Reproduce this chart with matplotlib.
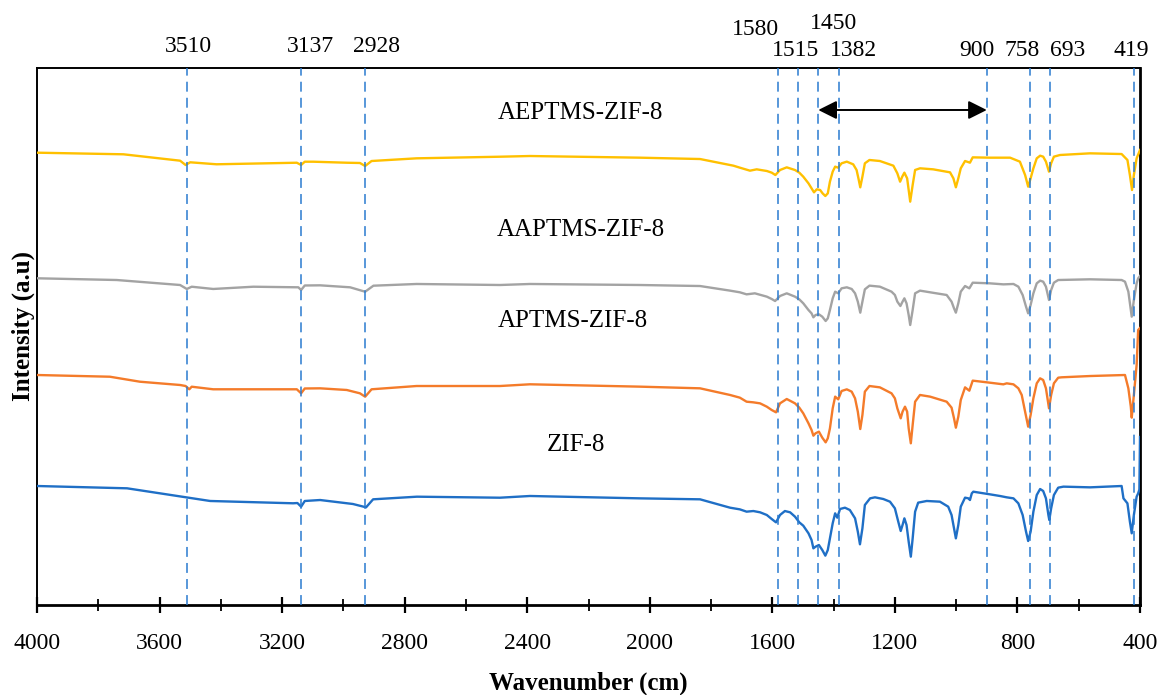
import matplotlib
matplotlib.use("Agg")
import matplotlib.pyplot as plt
from matplotlib.ticker import MultipleLocator

plt.rcParams["font.family"] = ["Liberation Serif", "DejaVu Serif"]

# ---- FTIR spectra (wavenumber in cm-1, offset intensity in a.u.) ----
zif8_wn = [4000, 3706, 3435, 3164, 3150, 3138, 3126, 3076, 2969, 2926, 2903, 2760,
           2489, 2391, 2032, 1836, 1738, 1706, 1684, 1662, 1640, 1618, 1602, 1588,
           1575, 1559, 1542, 1526, 1512, 1499, 1482, 1472, 1466, 1459, 1448, 1437,
           1427, 1419, 1412, 1403, 1395, 1388, 1379, 1363, 1347, 1330, 1321, 1314,
           1306, 1298, 1281, 1265, 1238, 1216, 1200, 1189, 1181, 1175, 1169, 1162,
           1155, 1148, 1142, 1134, 1124, 1096, 1053, 1026, 1015, 1007, 1001, 993,
           985, 971, 960, 955, 949, 944, 890, 857, 835, 813, 797, 783, 772, 765,
           757, 748, 737, 726, 716, 707, 699, 696, 690, 681, 667, 650, 563, 460,
           454, 441, 433, 427, 420, 411, 406, 402, 400]
zif8_int = [22.16, 21.73, 19.37, 18.94, 18.99, 18.31, 19.37, 19.55, 18.81, 18.19,
            19.68, 20.17, 19.98, 20.30, 19.86, 19.68, 18.12, 17.81, 17.38, 17.50,
            17.26, 16.76, 16.01, 15.39, 16.76, 17.50, 17.26, 16.45, 15.39, 14.77,
            13.35, 12.10, 10.55, 10.86, 11.17, 10.24, 9.19, 10.24, 12.41, 15.21,
            17.07, 16.26, 17.88, 18.12, 17.69, 16.14, 13.66, 11.30, 14.28, 18.62,
            19.86, 20.05, 19.74, 19.24, 18.00, 15.52, 13.78, 14.90, 16.14, 14.90,
            11.79, 9.00, 12.41, 17.38, 19.06, 19.37, 19.24, 18.31, 16.76, 14.28,
            12.41, 14.90, 18.31, 19.99, 19.86, 19.55, 20.79, 21.10, 20.61, 20.30,
            20.05, 19.86, 18.93, 16.76, 13.66, 11.92, 13.66, 17.38, 20.48, 21.60,
            21.23, 19.86, 16.76, 15.83, 18.00, 20.48, 21.85, 22.04, 21.91, 22.16,
            19.86, 18.93, 15.52, 13.35, 16.76, 20.17, 20.79, 21.50, 31.28]

aptms_wn = [4000, 3762, 3664, 3533, 3515, 3503, 3495, 3425, 3152, 3138, 3126, 3076,
            2989, 2946, 2929, 2908, 2761, 2489, 2391, 2032, 1836, 1738, 1706, 1684,
            1662, 1640, 1618, 1602, 1588, 1575, 1553, 1526, 1512, 1499, 1482, 1472,
            1466, 1459, 1448, 1437, 1426, 1419, 1412, 1403, 1395, 1385, 1374, 1357,
            1341, 1330, 1321, 1313, 1306, 1298, 1283, 1249, 1211, 1200, 1192, 1181,
            1175, 1167, 1160, 1155, 1148, 1142, 1134, 1118, 1085, 1031, 1015, 1007,
            1001, 993, 985, 971, 957, 946, 890, 846, 835, 813, 797, 786, 775, 765,
            757, 748, 737, 726, 716, 707, 697, 690, 681, 667, 656, 563, 449, 438,
            430, 427, 420, 411, 406, 400]
aptms_int = [42.83, 42.51, 41.58, 40.97, 40.78, 40.17, 40.65, 40.17, 40.17, 39.42,
             40.32, 40.35, 40.04, 39.42, 38.79, 40.17, 40.78, 40.78, 41.10, 40.66,
             40.35, 39.11, 38.61, 37.86, 37.74, 37.55, 36.93, 36.31, 35.88, 37.55,
             38.36, 37.55, 36.75, 35.69, 33.83, 32.59, 31.53, 31.97, 32.28, 31.16,
             30.29, 31.04, 32.90, 36.62, 38.80, 38.30, 39.85, 40.16, 39.73, 38.48,
             36.00, 32.77, 35.38, 39.73, 40.78, 40.53, 39.42, 38.48, 36.62, 34.76,
             36.00, 36.93, 36.00, 32.90, 30.11, 33.52, 37.86, 39.11, 38.80, 37.86,
             36.75, 34.76, 33.02, 35.07, 38.17, 40.53, 39.91, 41.78, 41.40, 41.09,
             41.28, 41.09, 40.35, 39.11, 36.00, 33.21, 35.38, 38.49, 41.28, 42.21,
             41.90, 40.35, 36.62, 39.11, 41.28, 42.33, 42.40, 42.64, 42.83, 40.35,
             36.93, 34.89, 39.11, 44.69, 51.21, 51.58]

aaptms_wn = [4000, 3740, 3533, 3511, 3495, 3425, 3294, 3147, 3138, 3126, 3076, 2978,
             2929, 2902, 2761, 2489, 2391, 2032, 1836, 1738, 1706, 1684, 1657, 1618,
             1602, 1591, 1575, 1553, 1526, 1512, 1499, 1482, 1472, 1466, 1459, 1448,
             1437, 1426, 1419, 1412, 1403, 1395, 1385, 1374, 1357, 1341, 1330, 1321,
             1313, 1306, 1298, 1283, 1249, 1211, 1200, 1192, 1182, 1175, 1169, 1162,
             1155, 1150, 1142, 1134, 1118, 1085, 1031, 1015, 1007, 1001, 993, 985,
             971, 957, 946, 890, 846, 813, 797, 783, 772, 765, 757, 748, 737, 726,
             716, 707, 697, 690, 681, 667, 563, 460, 449, 438, 427, 420, 411, 406,
             400]
aaptms_int = [60.84, 60.52, 59.59, 58.85, 59.27, 58.85, 59.27, 59.16, 58.66, 59.50,
              59.53, 59.16, 58.34, 59.46, 59.78, 59.59, 59.78, 59.59, 59.40, 58.54,
              58.23, 57.85, 58.04, 57.42, 56.98, 56.61, 57.54, 58.04, 57.42, 56.92,
              56.18, 54.93, 54.31, 53.57, 54.00, 54.13, 53.69, 52.89, 53.38, 54.93,
              57.11, 58.35, 58.04, 58.97, 59.16, 58.85, 58.04, 56.49, 54.44, 56.49,
              58.78, 59.47, 59.28, 58.35, 57.73, 56.49, 55.68, 56.49, 57.11, 56.18,
              54.00, 52.14, 54.93, 58.04, 58.54, 58.23, 57.73, 56.49, 55.25, 54.44,
              56.18, 58.35, 59.40, 58.97, 60.02, 59.90, 59.71, 59.78, 59.28, 57.73,
              55.56, 54.31, 55.87, 58.04, 59.90, 60.40, 60.21, 59.28, 56.80, 58.66,
              60.02, 60.52, 60.65, 60.52, 60.21, 58.35, 53.69, 56.80, 59.90, 60.83,
              61.27]

aeptms_wn = [4000, 3718, 3533, 3515, 3500, 3414, 3152, 3138, 3126, 3098, 2989, 2946,
             2929, 2908, 2761, 2489, 2391, 2032, 1836, 1727, 1706, 1673, 1651, 1618,
             1602, 1590, 1575, 1553, 1526, 1512, 1499, 1482, 1472, 1464, 1455, 1444,
             1436, 1427, 1419, 1412, 1403, 1395, 1385, 1374, 1357, 1336, 1325, 1319,
             1313, 1306, 1298, 1283, 1249, 1205, 1192, 1183, 1176, 1169, 1160, 1155,
             1150, 1142, 1134, 1118, 1075, 1020, 1009, 1001, 993, 985, 971, 955, 946,
             890, 824, 792, 775, 765, 757, 748, 737, 726, 716, 707, 697, 690, 681,
             661, 563, 460, 441, 433, 426, 420, 411, 403, 400]
aeptms_int = [84.23, 83.93, 82.74, 81.94, 82.44, 82.07, 82.36, 81.94, 82.55, 82.55,
              82.36, 82.31, 81.75, 82.68, 83.18, 83.48, 83.61, 83.30, 83.05, 81.81,
              81.44, 80.88, 81.13, 80.82, 80.51, 80.07, 81.00, 81.50, 81.00, 80.51,
              79.76, 78.52, 77.59, 76.85, 77.41, 77.28, 76.66, 76.16, 76.66, 78.83,
              80.70, 81.63, 81.44, 82.25, 82.56, 82.06, 81.00, 79.45, 77.78, 79.76,
              82.25, 82.87, 82.68, 81.81, 80.39, 78.83, 79.76, 80.51, 79.45, 77.28,
              75.11, 78.21, 81.01, 81.32, 81.13, 80.57, 79.45, 77.78, 79.45, 81.32,
              82.68, 82.37, 83.36, 83.30, 83.30, 82.56, 80.07, 77.90, 79.45, 81.32,
              83.18, 83.67, 83.49, 82.56, 80.69, 82.25, 83.49, 83.80, 84.11, 83.98,
              82.87, 80.07, 77.28, 80.07, 83.18, 84.30, 84.73]

sample_names = ["ZIF-8", "APTMS-ZIF-8", "AAPTMS-ZIF-8", "AEPTMS-ZIF-8"]
sample_colors = ["#1f6fc6", "#f47b2a", "#a3a3a3", "#ffc000"]

# Assigned band positions (cm-1)
band_labels = ["3510", "3137", "2928", "1580", "1515", "1450", "1382",
               "900", "758", "693", "419"]
band_values = [3510, 3137, 2928, 1580, 1515, 1450, 1382, 900, 758, 693, 419]

x_ticks = [4000, 3600, 3200, 2800, 2400, 2000, 1600, 1200, 800, 400]

# ---- layout ----
W, H = 1158, 695
fig = plt.figure(figsize=(W / 100, H / 100), dpi=100)
ax = fig.add_axes([37 / W, 1 - 605 / H, (1140 - 37) / W, (605 - 68) / H])

series = [(zif8_wn, zif8_int), (aptms_wn, aptms_int),
          (aaptms_wn, aaptms_int), (aeptms_wn, aeptms_int)]
for (wn, inten), col in zip(series, sample_colors):
    ax.plot(wn, inten, color=col, lw=1.7, solid_joinstyle="round", zorder=3)

for v in band_values:
    ax.axvline(v, color="#2a7bd0", lw=1.1, ls=(0, (6.5, 4)), zorder=4)

ax.set_xlim(4000, 400)
ax.set_ylim(0, 100)
ax.set_xticks(x_ticks)
ax.set_xticklabels([str(t) for t in x_ticks])
ax.xaxis.set_minor_locator(MultipleLocator(200))
ax.tick_params(axis="x", which="major", direction="inout", length=12, width=1.6,
               labelsize=17, pad=14)
ax.tick_params(axis="x", which="minor", direction="inout", length=8.5, width=1.3)
ax.set_yticks([])
for side in ["left", "top"]:
    ax.spines[side].set_linewidth(1.4)
for side in ["bottom", "right"]:
    ax.spines[side].set_linewidth(2.0)

fig.text(588 / W, 1 - 683 / H, "Wavenumber (cm)", fontsize=18, fontweight="bold",
         ha="center", va="center")
fig.text(23 / W, 1 - 326 / H, "Intensity (a.u)", fontsize=18, fontweight="bold",
         ha="center", va="center", rotation=90)

# band labels above the frame (offsets in points from the band line / top edge)
label_offsets = [(1.0, 15.5), (6.2, 15.5), (8.3, 15.5), (-16.9, 27.8),
                 (-1.7, 12.5), (11.3, 31.8), (10.0, 12.5), (-7.1, 12.5),
                 (-6.0, 12.5), (12.8, 12.5), (-2.3, 12.5)]
for lab, v, (dx, dy) in zip(band_labels, band_values, label_offsets):
    ax.annotate(lab, xy=(v, 1), xycoords=("data", "axes fraction"),
                xytext=(dx, dy), textcoords="offset points",
                ha="center", va="center", fontsize=17, annotation_clip=False)

# sample names
name_pos = [(2242, 29.8), (2252, 52.9), (2226, 69.8), (2226, 91.6)]
for name, (xw, yv) in zip(sample_names, name_pos):
    ax.text(xw, yv, name, ha="center", va="center", fontsize=18)

# fingerprint-region span arrow between the 1450 and 900 bands
ax.annotate("", xy=(900, 0.9218), xytext=(1450, 0.9218),
            xycoords=("data", "axes fraction"), textcoords=("data", "axes fraction"),
            arrowprops=dict(arrowstyle="<|-|>", color="black", lw=1.4,
                            mutation_scale=28, shrinkA=0, shrinkB=0))

fig.savefig("out.png", dpi=100)
